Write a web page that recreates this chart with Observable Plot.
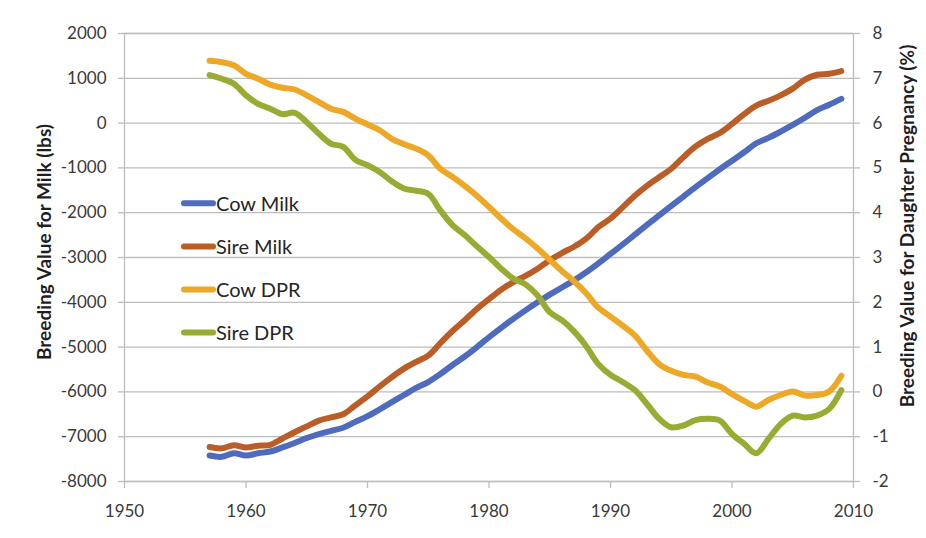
<!DOCTYPE html>
<html><head><meta charset="utf-8">
<script src="https://cdn.jsdelivr.net/npm/d3@7"></script>
<script src="https://cdn.jsdelivr.net/npm/@observablehq/plot@0.6"></script>
<style>
html,body{margin:0;padding:0;background:#fff;}
#chart{position:relative;width:926px;height:538px;}
</style></head><body><div id="chart"></div>
<script>
const years = [1957,1958,1959,1960,1961,1962,1963,1964,1965,1966,1967,1968,1969,1970,1971,1972,1973,1974,1975,1976,1977,1978,1979,1980,1981,1982,1983,1984,1985,1986,1987,1988,1989,1990,1991,1992,1993,1994,1995,1996,1997,1998,1999,2000,2001,2002,2003,2004,2005,2006,2007,2008,2009];
const cowMilk = [-7420,-7450,-7370,-7420,-7370,-7330,-7240,-7140,-7030,-6940,-6870,-6800,-6670,-6540,-6390,-6230,-6070,-5910,-5780,-5600,-5400,-5210,-5000,-4780,-4570,-4370,-4180,-4000,-3830,-3670,-3510,-3330,-3130,-2920,-2710,-2490,-2270,-2060,-1850,-1640,-1430,-1230,-1030,-840,-650,-450,-330,-190,-40,120,290,410,540];
const sireMilk = [-7230,-7260,-7190,-7240,-7200,-7180,-7040,-6900,-6770,-6640,-6570,-6500,-6300,-6100,-5880,-5670,-5480,-5330,-5190,-4910,-4640,-4400,-4150,-3930,-3720,-3550,-3410,-3250,-3060,-2900,-2760,-2580,-2320,-2130,-1880,-1620,-1400,-1210,-1020,-760,-520,-350,-220,-20,200,390,500,620,770,970,1080,1100,1160];
const cowDPR = [7.39,7.36,7.29,7.10,6.99,6.86,6.79,6.75,6.62,6.47,6.32,6.25,6.10,5.97,5.84,5.65,5.53,5.43,5.28,4.98,4.80,4.60,4.38,4.13,3.87,3.63,3.43,3.20,2.95,2.70,2.47,2.20,1.88,1.68,1.48,1.26,0.92,0.62,0.47,0.38,0.34,0.21,0.12,-0.05,-0.20,-0.33,-0.18,-0.07,0.01,-0.08,-0.07,0.01,0.36];
const sireDPR = [7.07,6.99,6.88,6.62,6.43,6.32,6.20,6.23,6.02,5.76,5.54,5.47,5.18,5.06,4.91,4.70,4.54,4.49,4.42,4.05,3.72,3.50,3.25,3.01,2.75,2.53,2.40,2.15,1.78,1.60,1.35,1.02,0.62,0.38,0.22,0.04,-0.27,-0.60,-0.79,-0.75,-0.63,-0.60,-0.64,-0.94,-1.16,-1.37,-1.05,-0.72,-0.53,-0.57,-0.53,-0.38,0.04];

const seriesNames = ["Cow Milk", "Sire Milk", "Cow DPR", "Sire DPR"];
const seriesColors = ["#4e6bbd", "#bb5d27", "#eca826", "#9aab34"];
const milkTicks = [-8000,-7000,-6000,-5000,-4000,-3000,-2000,-1000,0,1000,2000];
const dprTicks = [-2,-1,0,1,2,3,4,5,6,7,8];
const yearTicks = [1950,1960,1970,1980,1990,2000,2010];
const leftTitle = "Breeding Value for Milk (lbs)";
const rightTitle = "Breeding Value for Daughter Pregnancy (%)";

// DPR (right axis) is drawn on the milk (left) scale through this linear map
const dprToMilk = d3.scaleLinear().domain([-2, 8]).range([-8000, 2000]);

const rows = [];
years.forEach((yr, i) => {
  rows.push({year: yr, series: seriesNames[0], value: cowMilk[i]});
  rows.push({year: yr, series: seriesNames[1], value: sireMilk[i]});
  rows.push({year: yr, series: seriesNames[2], value: dprToMilk(cowDPR[i])});
  rows.push({year: yr, series: seriesNames[3], value: dprToMilk(sireDPR[i])});
});

const gridColor = "#bdbdbd";
const textColor = "#3a3a3a";

const chart = Plot.plot({
  width: 926,
  height: 538,
  marginLeft: 124,
  marginRight: 73,
  marginTop: 33,
  marginBottom: 57,
  style: {fontFamily: "Lato, 'Open Sans', sans-serif", fontSize: "17px", color: textColor, background: "white"},
  x: {domain: [1950, 2010]},
  y: {domain: [-8000, 2000]},
  color: {domain: seriesNames, range: seriesColors},
  marks: [
    Plot.gridY(milkTicks, {stroke: gridColor, strokeOpacity: 1, strokeWidth: 1.3}),
    Plot.frame({stroke: gridColor, strokeWidth: 1.3}),
    Plot.axisY(milkTicks, {anchor: "left", tickSize: 6, tickPadding: 12, stroke: gridColor, strokeWidth: 1.3, fill: textColor, tickFormat: d => String(d), label: null}),
    Plot.axisY(dprTicks.map(dprToMilk), {anchor: "right", tickSize: 6, tickPadding: 13, stroke: gridColor, strokeWidth: 1.3, fill: textColor, tickFormat: d => String(Math.round(dprToMilk.invert(d))), label: null}),
    Plot.axisX(yearTicks, {anchor: "bottom", tickSize: 7, tickPadding: 16, stroke: gridColor, strokeWidth: 1.3, fill: textColor, tickFormat: d => String(d), label: null}),
    Plot.line(rows, {x: "year", y: "value", z: "series", stroke: "series", strokeWidth: 6, curve: "catmull-rom", strokeLinecap: "round", strokeLinejoin: "round"})
  ]
});

document.getElementById("chart").appendChild(chart);

const svg = d3.select(chart);
// axis titles
svg.append("text")
  .attr("transform", "translate(51,242) rotate(-90)")
  .attr("text-anchor", "middle")
  .attr("font-family", "Lato, sans-serif")
  .attr("font-weight", "bold")
  .attr("font-size", "19px")
  .attr("fill", "#1f1f1f")
  .text(leftTitle);
svg.append("text")
  .attr("transform", "translate(914,226) rotate(-90)")
  .attr("text-anchor", "middle")
  .attr("font-family", "Lato, sans-serif")
  .attr("font-weight", "bold")
  .attr("font-size", "19px")
  .attr("fill", "#1f1f1f")
  .text(rightTitle);

// legend inside the plot
const leg = svg.append("g").attr("class", "legend");
seriesNames.forEach((name, i) => {
  const cy = 203.3 + i * 43.1;
  leg.append("line")
    .attr("x1", 184).attr("x2", 213).attr("y1", cy).attr("y2", cy)
    .attr("stroke", seriesColors[i]).attr("stroke-width", 6).attr("stroke-linecap", "round");
  leg.append("text")
    .attr("x", 216).attr("y", cy + 7.3)
    .attr("text-anchor", "start")
    .attr("font-family", "Lato, sans-serif")
    .attr("font-size", "20px")
    .attr("fill", "#262626")
    .text(name);
});
</script>
</body></html>
